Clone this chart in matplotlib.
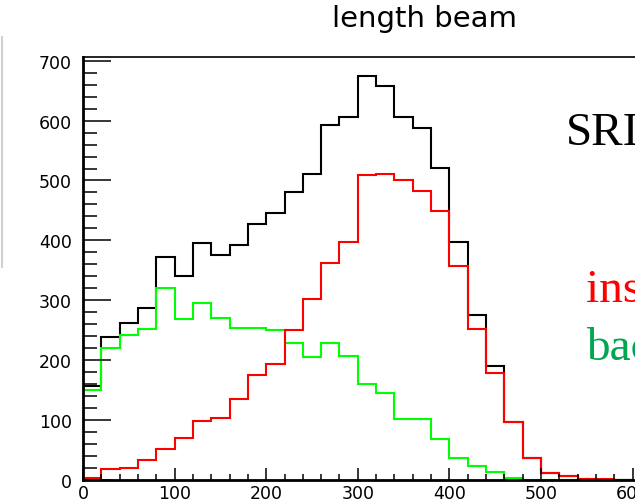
import numpy as np
import matplotlib
matplotlib.use("Agg")
import matplotlib.pyplot as plt
from matplotlib.ticker import MultipleLocator
from matplotlib.lines import Line2D

# Histogram binning: 20-unit bins from 0 to 600
bin_edges = np.arange(0, 620, 20)

# Bin contents
total_counts = [157, 239, 262, 287, 372, 341, 395, 376, 393, 428,
                446, 480, 511, 593, 606, 674, 658, 606, 587, 521,
                397, 275, 191, 97, 37, 12, 7, 2, 0, 0]
inside_counts = [3, 18, 20, 34, 52, 70, 99, 103, 135, 175,
                 193, 250, 303, 363, 397, 509, 511, 501, 482, 449,
                 357, 252, 178, 96, 37, 12, 7, 2, 1, 0]
background_counts = [150, 221, 242, 252, 320, 269, 295, 271, 254, 253,
                     251, 228, 205, 228, 207, 161, 145, 102, 102, 69,
                     37, 23, 13, 4, 0, 0, 0, 0, 0, 0]

title_text = "length beam"
label_sri = "SRI"
label_ins = "ins"
label_bac = "bac"

W, H = 635, 502
fig = plt.figure(figsize=(W / 100, H / 100), dpi=100)
fig.patch.set_facecolor("white")

x0_px, y0_px, ytop_px = 83, 481, 57.5
ax = fig.add_axes([x0_px / W, (H - y0_px) / H, 1 - x0_px / W, (y0_px - ytop_px) / H])

ax.stairs(total_counts, bin_edges, color="black", linewidth=1.5)
ax.stairs(background_counts, bin_edges, color="#00ff00", linewidth=1.5)
ax.stairs(inside_counts, bin_edges, color="#ff0000", linewidth=1.5)

ax.set_xlim(0, (W - x0_px) / 0.916)
ax.set_ylim(0, 707)

ax.xaxis.set_major_locator(MultipleLocator(100))
ax.xaxis.set_minor_locator(MultipleLocator(20))
ax.yaxis.set_major_locator(MultipleLocator(100))
ax.yaxis.set_minor_locator(MultipleLocator(20))

ax.tick_params(axis="both", which="both", direction="in", top=False, right=False,
               color="black", width=1.1)
ax.tick_params(axis="y", which="major", length=20, pad=8, labelsize=12.5)
ax.tick_params(axis="y", which="minor", length=10)
ax.tick_params(axis="x", which="major", length=8.5, pad=3, labelsize=12.5)
ax.tick_params(axis="x", which="minor", length=4.5)

for lab in ax.get_xticklabels() + ax.get_yticklabels():
    lab.set_family("DejaVu Sans")

ax.spines["right"].set_visible(False)
ax.spines["left"].set_linewidth(2.0)
ax.spines["bottom"].set_linewidth(2.0)
ax.spines["top"].set_linewidth(1.2)

# Title across the top of the canvas
fig.text(332 / W, 1 - 27 / H, title_text, fontsize=21, family="DejaVu Sans",
         ha="left", va="baseline", color="black")

# Annotation texts on the right
fig.text(566 / W, 1 - 145 / H, label_sri, fontsize=34, family="Liberation Serif",
         ha="left", va="baseline", color="black")
fig.text(586 / W, 1 - 302 / H, label_ins, fontsize=34, family="Liberation Serif",
         ha="left", va="baseline", color="#ff0000")
fig.text(586 / W, 1 - 360 / H, label_bac, fontsize=34, family="Liberation Serif",
         ha="left", va="baseline", color="#00a650")

# Light grey frame edge at the far left
fig.add_artist(Line2D([1.7 / W, 1.7 / W], [1 - 38 / H, 1 - 268 / H],
                      transform=fig.transFigure, color="#d0d0d0", linewidth=1.5))

fig.savefig("out.png", dpi=100)
